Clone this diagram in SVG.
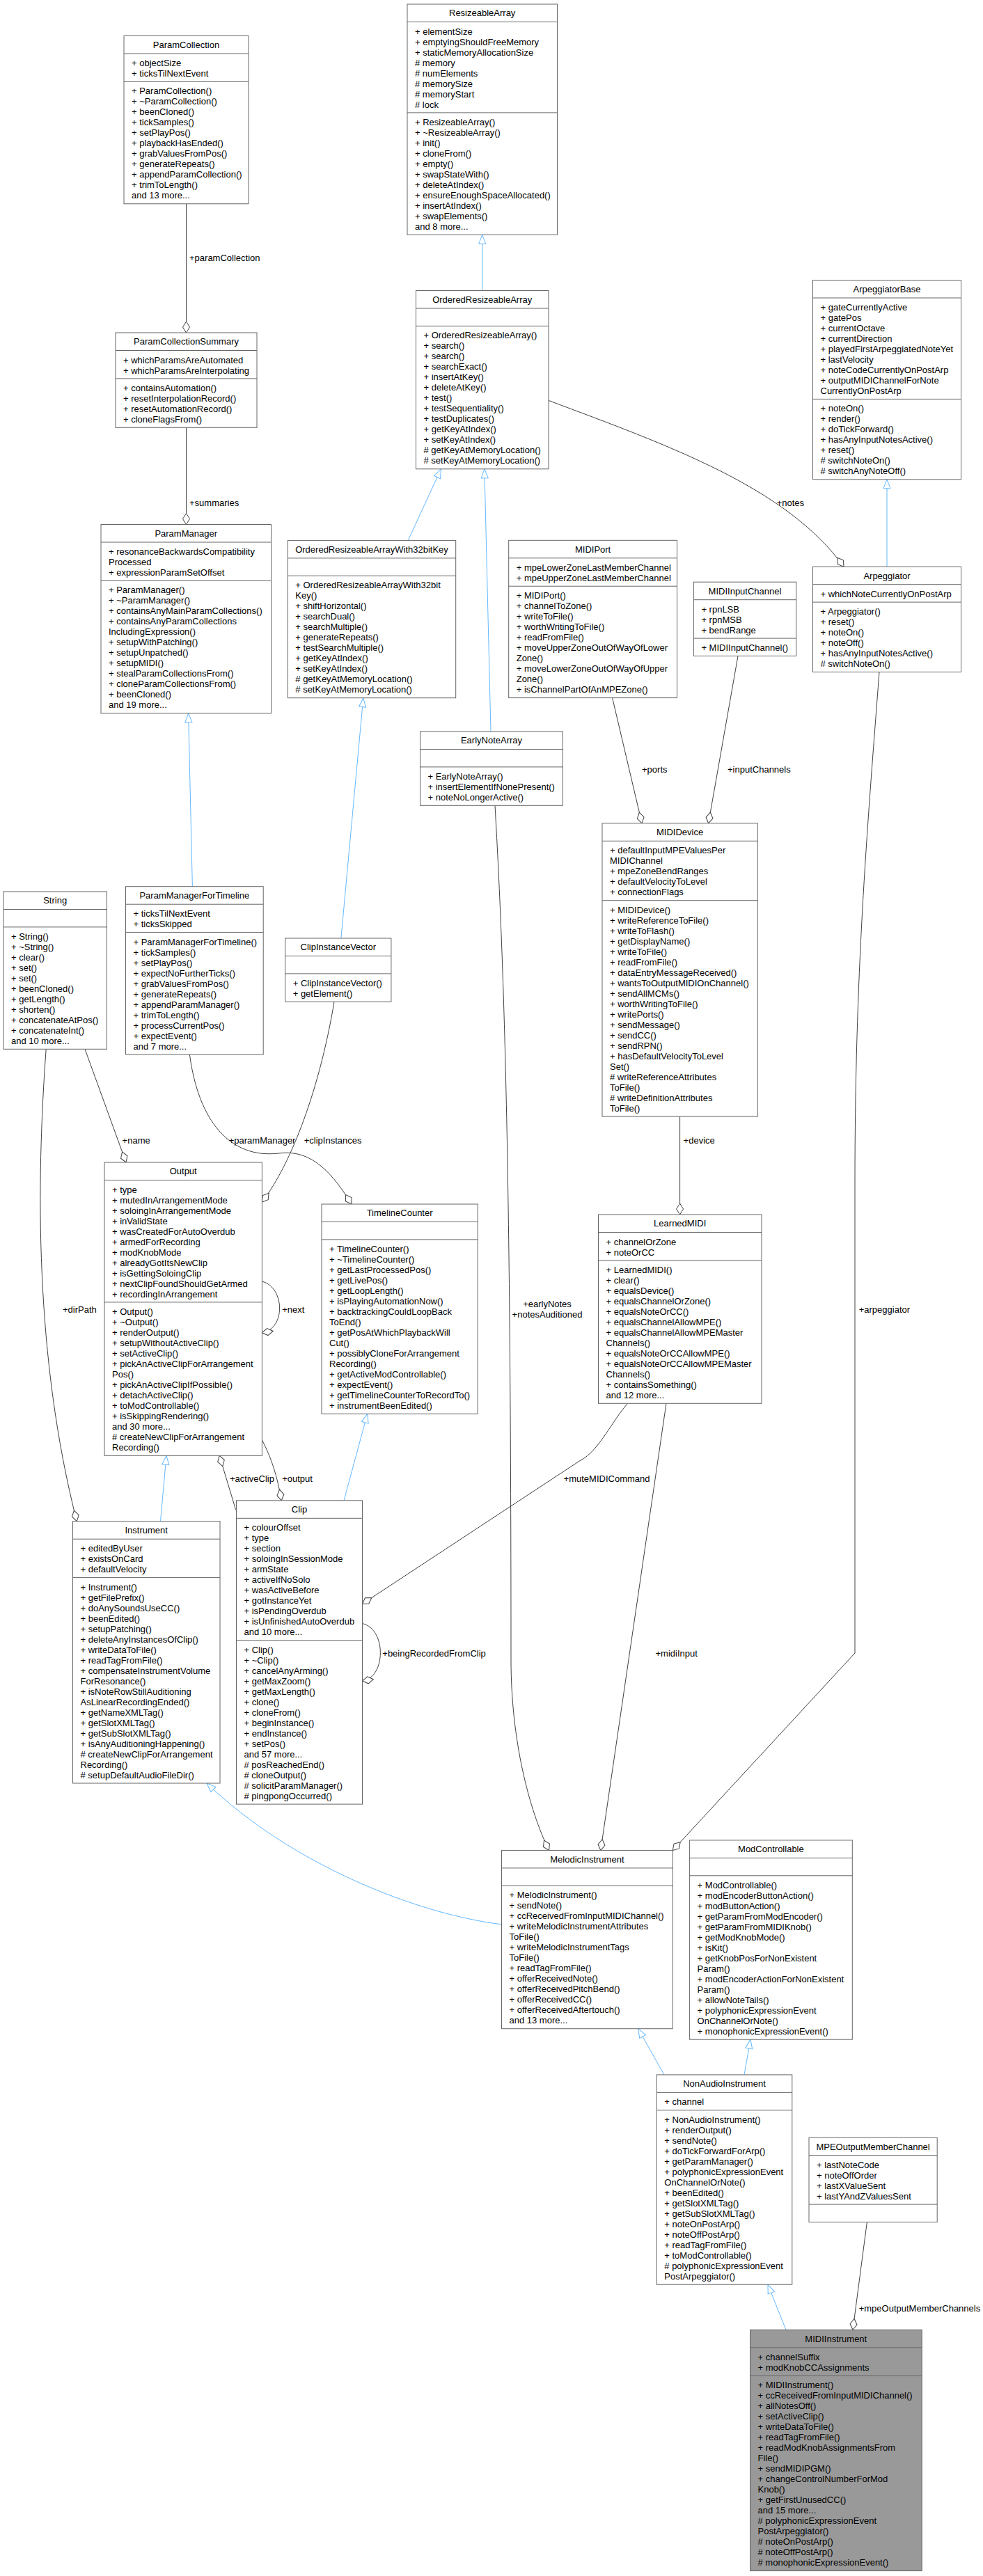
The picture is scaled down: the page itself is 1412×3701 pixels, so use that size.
<svg xmlns="http://www.w3.org/2000/svg" width="1412" height="3701" viewBox="0 0 1412 3701">
<style>
.b{fill:#fff;stroke:#666;stroke-width:1}
.g{fill:#999;stroke:#666;stroke-width:1}
.s{stroke:#666;stroke-width:1}
.t{font-family:"Liberation Sans",Arial,sans-serif;font-size:13px;fill:#000}
.c{text-anchor:middle}
.a{fill:none;stroke:#404040;stroke-width:1;marker-end:url(#dia)}
.i{fill:none;stroke:#63b8ff;stroke-width:1;marker-end:url(#tri)}
</style>
<defs>
<marker id="dia" markerUnits="userSpaceOnUse" markerWidth="18" markerHeight="14" viewBox="-17 -7 18 14" refX="0" refY="0" orient="auto"><path d="M0,0 L-8,-5 L-16,0 L-8,5 Z" fill="#fff" stroke="#404040"/></marker>
<marker id="tri" markerUnits="userSpaceOnUse" markerWidth="15" markerHeight="14" viewBox="-14 -7 15 14" refX="0" refY="0" orient="auto"><path d="M0,0 L-13,-5 L-13,5 Z" fill="#fff" stroke="#63b8ff"/></marker>
</defs>
<rect width="1412" height="3701" fill="#fff"/>
<g id="edges">
<path class="a" d="M267.5,292.8 L267.5,478"/>
<path class="a" d="M267.5,614.3 L267.5,753.5"/>
<path class="i" d="M276.4,1273.7 L270.6,1024.8"/>
<path class="i" d="M692.7,417.5 L692.7,337.3"/>
<path class="i" d="M586.2,776.4 L633.5,673.8"/>
<path class="i" d="M705,1051 L695.9,673.8"/>
<path class="i" d="M489.9,1348 L521.8,1002.7"/>
<path class="i" d="M1274,814.2 L1274,688.8"/>
<path class="a" d="M788,575.4 C960,640 1130,700 1212,814.2"/>
<path class="a" d="M879.6,1002.6 L922,1182.8"/>
<path class="a" d="M1060,942.5 L1017.6,1182.8"/>
<path class="a" d="M976.6,1604.1 L976.6,1745"/>
<path class="a" d="M122,1507.3 L181,1670"/>
<path class="a" d="M66.2,1507.3 C52,1700 50,1950 110.3,2185.7"/>
<path class="a" d="M272.4,1515 C285,1610 330,1665 400,1657 C450,1650 480,1690 505,1730"/>
<path class="a" d="M480,1439.3 C460,1560 420,1670 376.4,1727"/>
<path class="a" d="M376.4,1841 C410,1850 410,1910 376.4,1914.7"/>
<path class="a" d="M338.6,2169 L315.2,2091.3"/>
<path class="a" d="M376.4,2068.8 C390,2095 398,2120 404.3,2155.8"/>
<path class="i" d="M230.5,2185.7 L239,2091.3"/>
<path class="i" d="M494,2155.8 L527.7,2031.3"/>
<path class="a" d="M520.5,2332.6 C555,2340 555,2410 520.5,2415"/>
<path class="a" d="M901.7,2016.3 C880,2040 860,2085 834,2098 L520.5,2304.3"/>
<path class="a" d="M957,2016.3 L862.8,2658.4"/>
<path class="a" d="M711,1157.3 C725,1400 734,1700 734,2385 C734,2500 760,2600 788.5,2658.4"/>
<path class="a" d="M1263,965.5 C1245,1200 1228,1400 1228,1700 L1228,2375 L966.3,2658.4"/>
<path class="i" d="M720.5,2764.8 C600,2750 420,2680 297,2562"/>
<path class="i" d="M954,2980.9 L916.7,2914.7"/>
<path class="i" d="M1069,2980.9 L1078,2930.2"/>
<path class="i" d="M1129,3347.3 L1103,3282.2"/>
<path class="a" d="M1245.4,3192.5 L1225,3347.3"/>
<text class="t" x="272" y="375">+paramCollection</text>
<text class="t" x="272" y="726.5">+summaries</text>
<text class="t" x="1115.7" y="726.5">+notes</text>
<text class="t" x="922" y="1110">+ports</text>
<text class="t" x="1045" y="1110">+inputChannels</text>
<text class="t" x="981.6" y="1642.5">+device</text>
<text class="t" x="175.6" y="1642.5">+name</text>
<text class="t" x="328.7" y="1642.5">+paramManager</text>
<text class="t" x="436.7" y="1642.5">+clipInstances</text>
<text class="t" x="90" y="1885.5">+dirPath</text>
<text class="t" x="405.2" y="1885.5">+next</text>
<text class="t" x="330" y="2128.8">+activeClip</text>
<text class="t" x="405.2" y="2128.8">+output</text>
<text class="t" x="549.3" y="2379.5">+beingRecordedFromClip</text>
<text class="t" x="809.6" y="2128.8">+muteMIDICommand</text>
<text class="t" x="941.5" y="2379.5">+midiInput</text>
<text class="t c" x="786" y="1878">+earlyNotes</text>
<text class="t c" x="786" y="1892.8">+notesAuditioned</text>
<text class="t" x="1233.7" y="1885.5">+arpeggiator</text>
<text class="t" x="1233.7" y="3320.5">+mpeOutputMemberChannels</text>
</g>

<g id="ParamCollection">
<rect class="b" x="178" y="51.5" width="179" height="241.3"/>
<line class="s" x1="178" y1="77" x2="357" y2="77"/><line class="s" x1="178" y1="117.4" x2="357" y2="117.4"/>
<text class="t c" x="267.5" y="68.9">ParamCollection</text>
<text class="t" x="189" y="95"><tspan x="189">+ objectSize</tspan><tspan x="189" dy="15">+ ticksTilNextEvent</tspan></text>
<text class="t" x="189" y="135.4"><tspan x="189">+ ParamCollection()</tspan><tspan x="189" dy="15">+ ~ParamCollection()</tspan><tspan x="189" dy="15">+ beenCloned()</tspan><tspan x="189" dy="15">+ tickSamples()</tspan><tspan x="189" dy="15">+ setPlayPos()</tspan><tspan x="189" dy="15">+ playbackHasEnded()</tspan><tspan x="189" dy="15">+ grabValuesFromPos()</tspan><tspan x="189" dy="15">+ generateRepeats()</tspan><tspan x="189" dy="15">+ appendParamCollection()</tspan><tspan x="189" dy="15">+ trimToLength()</tspan><tspan x="189" dy="15">and 13 more...</tspan></text>
</g>

<g id="ParamCollectionSummary">
<rect class="b" x="166" y="478" width="203" height="136.3"/>
<line class="s" x1="166" y1="503.5" x2="369" y2="503.5"/><line class="s" x1="166" y1="543.9" x2="369" y2="543.9"/>
<text class="t c" x="267.5" y="495.4">ParamCollectionSummary</text>
<text class="t" x="177" y="521.5"><tspan x="177">+ whichParamsAreAutomated</tspan><tspan x="177" dy="15">+ whichParamsAreInterpolating</tspan></text>
<text class="t" x="177" y="561.9"><tspan x="177">+ containsAutomation()</tspan><tspan x="177" dy="15">+ resetInterpolationRecord()</tspan><tspan x="177" dy="15">+ resetAutomationRecord()</tspan><tspan x="177" dy="15">+ cloneFlagsFrom()</tspan></text>
</g>

<g id="ParamManager">
<rect class="b" x="145" y="753.5" width="244.5" height="271.3"/>
<line class="s" x1="145" y1="779" x2="389.5" y2="779"/><line class="s" x1="145" y1="834.4" x2="389.5" y2="834.4"/>
<text class="t c" x="267.2" y="770.9">ParamManager</text>
<text class="t" x="156" y="797"><tspan x="156">+ resonanceBackwardsCompatibility</tspan><tspan x="156" dy="15">Processed</tspan><tspan x="156" dy="15">+ expressionParamSetOffset</tspan></text>
<text class="t" x="156" y="852.4"><tspan x="156">+ ParamManager()</tspan><tspan x="156" dy="15">+ ~ParamManager()</tspan><tspan x="156" dy="15">+ containsAnyMainParamCollections()</tspan><tspan x="156" dy="15">+ containsAnyParamCollections</tspan><tspan x="156" dy="15">IncludingExpression()</tspan><tspan x="156" dy="15">+ setupWithPatching()</tspan><tspan x="156" dy="15">+ setupUnpatched()</tspan><tspan x="156" dy="15">+ setupMIDI()</tspan><tspan x="156" dy="15">+ stealParamCollectionsFrom()</tspan><tspan x="156" dy="15">+ cloneParamCollectionsFrom()</tspan><tspan x="156" dy="15">+ beenCloned()</tspan><tspan x="156" dy="15">and 19 more...</tspan></text>
</g>

<g id="ResizeableArray">
<rect class="b" x="585" y="6" width="215.5" height="331.3"/>
<line class="s" x1="585" y1="31.5" x2="800.5" y2="31.5"/><line class="s" x1="585" y1="161.9" x2="800.5" y2="161.9"/>
<text class="t c" x="692.7" y="23.4">ResizeableArray</text>
<text class="t" x="596" y="49.5"><tspan x="596">+ elementSize</tspan><tspan x="596" dy="15">+ emptyingShouldFreeMemory</tspan><tspan x="596" dy="15">+ staticMemoryAllocationSize</tspan><tspan x="596" dy="15"># memory</tspan><tspan x="596" dy="15"># numElements</tspan><tspan x="596" dy="15"># memorySize</tspan><tspan x="596" dy="15"># memoryStart</tspan><tspan x="596" dy="15"># lock</tspan></text>
<text class="t" x="596" y="179.9"><tspan x="596">+ ResizeableArray()</tspan><tspan x="596" dy="15">+ ~ResizeableArray()</tspan><tspan x="596" dy="15">+ init()</tspan><tspan x="596" dy="15">+ cloneFrom()</tspan><tspan x="596" dy="15">+ empty()</tspan><tspan x="596" dy="15">+ swapStateWith()</tspan><tspan x="596" dy="15">+ deleteAtIndex()</tspan><tspan x="596" dy="15">+ ensureEnoughSpaceAllocated()</tspan><tspan x="596" dy="15">+ insertAtIndex()</tspan><tspan x="596" dy="15">+ swapElements()</tspan><tspan x="596" dy="15">and 8 more...</tspan></text>
</g>

<g id="OrderedResizeableArray">
<rect class="b" x="597.5" y="417.5" width="190.5" height="256.3"/>
<line class="s" x1="597.5" y1="443" x2="788" y2="443"/><line class="s" x1="597.5" y1="468.4" x2="788" y2="468.4"/>
<text class="t c" x="692.7" y="434.9">OrderedResizeableArray</text>
<text class="t" x="608.5" y="486.4"><tspan x="608.5">+ OrderedResizeableArray()</tspan><tspan x="608.5" dy="15">+ search()</tspan><tspan x="608.5" dy="15">+ search()</tspan><tspan x="608.5" dy="15">+ searchExact()</tspan><tspan x="608.5" dy="15">+ insertAtKey()</tspan><tspan x="608.5" dy="15">+ deleteAtKey()</tspan><tspan x="608.5" dy="15">+ test()</tspan><tspan x="608.5" dy="15">+ testSequentiality()</tspan><tspan x="608.5" dy="15">+ testDuplicates()</tspan><tspan x="608.5" dy="15">+ getKeyAtIndex()</tspan><tspan x="608.5" dy="15">+ setKeyAtIndex()</tspan><tspan x="608.5" dy="15"># getKeyAtMemoryLocation()</tspan><tspan x="608.5" dy="15"># setKeyAtMemoryLocation()</tspan></text>
</g>

<g id="ArpeggiatorBase">
<rect class="b" x="1167.5" y="402.5" width="213" height="286.3"/>
<line class="s" x1="1167.5" y1="428" x2="1380.5" y2="428"/><line class="s" x1="1167.5" y1="573.4" x2="1380.5" y2="573.4"/>
<text class="t c" x="1274" y="419.9">ArpeggiatorBase</text>
<text class="t" x="1178.5" y="446"><tspan x="1178.5">+ gateCurrentlyActive</tspan><tspan x="1178.5" dy="15">+ gatePos</tspan><tspan x="1178.5" dy="15">+ currentOctave</tspan><tspan x="1178.5" dy="15">+ currentDirection</tspan><tspan x="1178.5" dy="15">+ playedFirstArpeggiatedNoteYet</tspan><tspan x="1178.5" dy="15">+ lastVelocity</tspan><tspan x="1178.5" dy="15">+ noteCodeCurrentlyOnPostArp</tspan><tspan x="1178.5" dy="15">+ outputMIDIChannelForNote</tspan><tspan x="1178.5" dy="15">CurrentlyOnPostArp</tspan></text>
<text class="t" x="1178.5" y="591.4"><tspan x="1178.5">+ noteOn()</tspan><tspan x="1178.5" dy="15">+ render()</tspan><tspan x="1178.5" dy="15">+ doTickForward()</tspan><tspan x="1178.5" dy="15">+ hasAnyInputNotesActive()</tspan><tspan x="1178.5" dy="15">+ reset()</tspan><tspan x="1178.5" dy="15"># switchNoteOn()</tspan><tspan x="1178.5" dy="15"># switchAnyNoteOff()</tspan></text>
</g>

<g id="Arpeggiator">
<rect class="b" x="1167.5" y="814.2" width="213" height="151.3"/>
<line class="s" x1="1167.5" y1="839.7" x2="1380.5" y2="839.7"/><line class="s" x1="1167.5" y1="865.1" x2="1380.5" y2="865.1"/>
<text class="t c" x="1274" y="831.6">Arpeggiator</text>
<text class="t" x="1178.5" y="857.7">+ whichNoteCurrentlyOnPostArp</text>
<text class="t" x="1178.5" y="883.1"><tspan x="1178.5">+ Arpeggiator()</tspan><tspan x="1178.5" dy="15">+ reset()</tspan><tspan x="1178.5" dy="15">+ noteOn()</tspan><tspan x="1178.5" dy="15">+ noteOff()</tspan><tspan x="1178.5" dy="15">+ hasAnyInputNotesActive()</tspan><tspan x="1178.5" dy="15"># switchNoteOn()</tspan></text>
</g>

<g id="OrderedResizeableArrayWith32bitKey">
<rect class="b" x="413.3" y="776.4" width="241.4" height="226.3"/>
<line class="s" x1="413.3" y1="801.9" x2="654.7" y2="801.9"/><line class="s" x1="413.3" y1="827.3" x2="654.7" y2="827.3"/>
<text class="t c" x="534" y="793.8">OrderedResizeableArrayWith32bitKey</text>
<text class="t" x="424.3" y="845.3"><tspan x="424.3">+ OrderedResizeableArrayWith32bit</tspan><tspan x="424.3" dy="15">Key()</tspan><tspan x="424.3" dy="15">+ shiftHorizontal()</tspan><tspan x="424.3" dy="15">+ searchDual()</tspan><tspan x="424.3" dy="15">+ searchMultiple()</tspan><tspan x="424.3" dy="15">+ generateRepeats()</tspan><tspan x="424.3" dy="15">+ testSearchMultiple()</tspan><tspan x="424.3" dy="15">+ getKeyAtIndex()</tspan><tspan x="424.3" dy="15">+ setKeyAtIndex()</tspan><tspan x="424.3" dy="15"># getKeyAtMemoryLocation()</tspan><tspan x="424.3" dy="15"># setKeyAtMemoryLocation()</tspan></text>
</g>

<g id="EarlyNoteArray">
<rect class="b" x="603.5" y="1051" width="204.9" height="106.3"/>
<line class="s" x1="603.5" y1="1076.5" x2="808.4" y2="1076.5"/><line class="s" x1="603.5" y1="1101.9" x2="808.4" y2="1101.9"/>
<text class="t c" x="706" y="1068.4">EarlyNoteArray</text>
<text class="t" x="614.5" y="1119.9"><tspan x="614.5">+ EarlyNoteArray()</tspan><tspan x="614.5" dy="15">+ insertElementIfNonePresent()</tspan><tspan x="614.5" dy="15">+ noteNoLongerActive()</tspan></text>
</g>

<g id="MIDIPort">
<rect class="b" x="730.7" y="776.3" width="241.8" height="226.3"/>
<line class="s" x1="730.7" y1="801.8" x2="972.5" y2="801.8"/><line class="s" x1="730.7" y1="842.2" x2="972.5" y2="842.2"/>
<text class="t c" x="851.6" y="793.7">MIDIPort</text>
<text class="t" x="741.7" y="819.8"><tspan x="741.7">+ mpeLowerZoneLastMemberChannel</tspan><tspan x="741.7" dy="15">+ mpeUpperZoneLastMemberChannel</tspan></text>
<text class="t" x="741.7" y="860.2"><tspan x="741.7">+ MIDIPort()</tspan><tspan x="741.7" dy="15">+ channelToZone()</tspan><tspan x="741.7" dy="15">+ writeToFile()</tspan><tspan x="741.7" dy="15">+ worthWritingToFile()</tspan><tspan x="741.7" dy="15">+ readFromFile()</tspan><tspan x="741.7" dy="15">+ moveUpperZoneOutOfWayOfLower</tspan><tspan x="741.7" dy="15">Zone()</tspan><tspan x="741.7" dy="15">+ moveLowerZoneOutOfWayOfUpper</tspan><tspan x="741.7" dy="15">Zone()</tspan><tspan x="741.7" dy="15">+ isChannelPartOfAnMPEZone()</tspan></text>
</g>

<g id="MIDIInputChannel">
<rect class="b" x="996.4" y="836.2" width="147.3" height="106.3"/>
<line class="s" x1="996.4" y1="861.7" x2="1143.7" y2="861.7"/><line class="s" x1="996.4" y1="917.1" x2="1143.7" y2="917.1"/>
<text class="t c" x="1070" y="853.6">MIDIInputChannel</text>
<text class="t" x="1007.4" y="879.7"><tspan x="1007.4">+ rpnLSB</tspan><tspan x="1007.4" dy="15">+ rpnMSB</tspan><tspan x="1007.4" dy="15">+ bendRange</tspan></text>
<text class="t" x="1007.4" y="935.1">+ MIDIInputChannel()</text>
</g>

<g id="MIDIDevice">
<rect class="b" x="865" y="1182.8" width="223.3" height="421.3"/>
<line class="s" x1="865" y1="1208.3" x2="1088.3" y2="1208.3"/><line class="s" x1="865" y1="1293.7" x2="1088.3" y2="1293.7"/>
<text class="t c" x="976.6" y="1200.2">MIDIDevice</text>
<text class="t" x="876" y="1226.3"><tspan x="876">+ defaultInputMPEValuesPer</tspan><tspan x="876" dy="15">MIDIChannel</tspan><tspan x="876" dy="15">+ mpeZoneBendRanges</tspan><tspan x="876" dy="15">+ defaultVelocityToLevel</tspan><tspan x="876" dy="15">+ connectionFlags</tspan></text>
<text class="t" x="876" y="1311.7"><tspan x="876">+ MIDIDevice()</tspan><tspan x="876" dy="15">+ writeReferenceToFile()</tspan><tspan x="876" dy="15">+ writeToFlash()</tspan><tspan x="876" dy="15">+ getDisplayName()</tspan><tspan x="876" dy="15">+ writeToFile()</tspan><tspan x="876" dy="15">+ readFromFile()</tspan><tspan x="876" dy="15">+ dataEntryMessageReceived()</tspan><tspan x="876" dy="15">+ wantsToOutputMIDIOnChannel()</tspan><tspan x="876" dy="15">+ sendAllMCMs()</tspan><tspan x="876" dy="15">+ worthWritingToFile()</tspan><tspan x="876" dy="15">+ writePorts()</tspan><tspan x="876" dy="15">+ sendMessage()</tspan><tspan x="876" dy="15">+ sendCC()</tspan><tspan x="876" dy="15">+ sendRPN()</tspan><tspan x="876" dy="15">+ hasDefaultVelocityToLevel</tspan><tspan x="876" dy="15">Set()</tspan><tspan x="876" dy="15"># writeReferenceAttributes</tspan><tspan x="876" dy="15">ToFile()</tspan><tspan x="876" dy="15"># writeDefinitionAttributes</tspan><tspan x="876" dy="15">ToFile()</tspan></text>
</g>

<g id="LearnedMIDI">
<rect class="b" x="859.5" y="1745" width="234.5" height="271.3"/>
<line class="s" x1="859.5" y1="1770.5" x2="1094" y2="1770.5"/><line class="s" x1="859.5" y1="1810.9" x2="1094" y2="1810.9"/>
<text class="t c" x="976.7" y="1762.4">LearnedMIDI</text>
<text class="t" x="870.5" y="1788.5"><tspan x="870.5">+ channelOrZone</tspan><tspan x="870.5" dy="15">+ noteOrCC</tspan></text>
<text class="t" x="870.5" y="1828.9"><tspan x="870.5">+ LearnedMIDI()</tspan><tspan x="870.5" dy="15">+ clear()</tspan><tspan x="870.5" dy="15">+ equalsDevice()</tspan><tspan x="870.5" dy="15">+ equalsChannelOrZone()</tspan><tspan x="870.5" dy="15">+ equalsNoteOrCC()</tspan><tspan x="870.5" dy="15">+ equalsChannelAllowMPE()</tspan><tspan x="870.5" dy="15">+ equalsChannelAllowMPEMaster</tspan><tspan x="870.5" dy="15">Channels()</tspan><tspan x="870.5" dy="15">+ equalsNoteOrCCAllowMPE()</tspan><tspan x="870.5" dy="15">+ equalsNoteOrCCAllowMPEMaster</tspan><tspan x="870.5" dy="15">Channels()</tspan><tspan x="870.5" dy="15">+ containsSomething()</tspan><tspan x="870.5" dy="15">and 12 more...</tspan></text>
</g>

<g id="String">
<rect class="b" x="5" y="1281" width="148.5" height="226.3"/>
<line class="s" x1="5" y1="1306.5" x2="153.5" y2="1306.5"/><line class="s" x1="5" y1="1331.9" x2="153.5" y2="1331.9"/>
<text class="t c" x="79.2" y="1298.4">String</text>
<text class="t" x="16" y="1349.9"><tspan x="16">+ String()</tspan><tspan x="16" dy="15">+ ~String()</tspan><tspan x="16" dy="15">+ clear()</tspan><tspan x="16" dy="15">+ set()</tspan><tspan x="16" dy="15">+ set()</tspan><tspan x="16" dy="15">+ beenCloned()</tspan><tspan x="16" dy="15">+ getLength()</tspan><tspan x="16" dy="15">+ shorten()</tspan><tspan x="16" dy="15">+ concatenateAtPos()</tspan><tspan x="16" dy="15">+ concatenateInt()</tspan><tspan x="16" dy="15">and 10 more...</tspan></text>
</g>

<g id="ParamManagerForTimeline">
<rect class="b" x="180.5" y="1273.7" width="197.7" height="241.3"/>
<line class="s" x1="180.5" y1="1299.2" x2="378.2" y2="1299.2"/><line class="s" x1="180.5" y1="1339.6" x2="378.2" y2="1339.6"/>
<text class="t c" x="279.3" y="1291.1">ParamManagerForTimeline</text>
<text class="t" x="191.5" y="1317.2"><tspan x="191.5">+ ticksTilNextEvent</tspan><tspan x="191.5" dy="15">+ ticksSkipped</tspan></text>
<text class="t" x="191.5" y="1357.6"><tspan x="191.5">+ ParamManagerForTimeline()</tspan><tspan x="191.5" dy="15">+ tickSamples()</tspan><tspan x="191.5" dy="15">+ setPlayPos()</tspan><tspan x="191.5" dy="15">+ expectNoFurtherTicks()</tspan><tspan x="191.5" dy="15">+ grabValuesFromPos()</tspan><tspan x="191.5" dy="15">+ generateRepeats()</tspan><tspan x="191.5" dy="15">+ appendParamManager()</tspan><tspan x="191.5" dy="15">+ trimToLength()</tspan><tspan x="191.5" dy="15">+ processCurrentPos()</tspan><tspan x="191.5" dy="15">+ expectEvent()</tspan><tspan x="191.5" dy="15">and 7 more...</tspan></text>
</g>

<g id="ClipInstanceVector">
<rect class="b" x="409.7" y="1348" width="152.2" height="91.3"/>
<line class="s" x1="409.7" y1="1373.5" x2="561.9" y2="1373.5"/><line class="s" x1="409.7" y1="1398.9" x2="561.9" y2="1398.9"/>
<text class="t c" x="485.8" y="1365.4">ClipInstanceVector</text>
<text class="t" x="420.7" y="1416.9"><tspan x="420.7">+ ClipInstanceVector()</tspan><tspan x="420.7" dy="15">+ getElement()</tspan></text>
</g>

<g id="Output">
<rect class="b" x="150" y="1670" width="226.4" height="421.3"/>
<line class="s" x1="150" y1="1695.5" x2="376.4" y2="1695.5"/><line class="s" x1="150" y1="1870.9" x2="376.4" y2="1870.9"/>
<text class="t c" x="263.2" y="1687.4">Output</text>
<text class="t" x="161" y="1713.5"><tspan x="161">+ type</tspan><tspan x="161" dy="15">+ mutedInArrangementMode</tspan><tspan x="161" dy="15">+ soloingInArrangementMode</tspan><tspan x="161" dy="15">+ inValidState</tspan><tspan x="161" dy="15">+ wasCreatedForAutoOverdub</tspan><tspan x="161" dy="15">+ armedForRecording</tspan><tspan x="161" dy="15">+ modKnobMode</tspan><tspan x="161" dy="15">+ alreadyGotItsNewClip</tspan><tspan x="161" dy="15">+ isGettingSoloingClip</tspan><tspan x="161" dy="15">+ nextClipFoundShouldGetArmed</tspan><tspan x="161" dy="15">+ recordingInArrangement</tspan></text>
<text class="t" x="161" y="1888.9"><tspan x="161">+ Output()</tspan><tspan x="161" dy="15">+ ~Output()</tspan><tspan x="161" dy="15">+ renderOutput()</tspan><tspan x="161" dy="15">+ setupWithoutActiveClip()</tspan><tspan x="161" dy="15">+ setActiveClip()</tspan><tspan x="161" dy="15">+ pickAnActiveClipForArrangement</tspan><tspan x="161" dy="15">Pos()</tspan><tspan x="161" dy="15">+ pickAnActiveClipIfPossible()</tspan><tspan x="161" dy="15">+ detachActiveClip()</tspan><tspan x="161" dy="15">+ toModControllable()</tspan><tspan x="161" dy="15">+ isSkippingRendering()</tspan><tspan x="161" dy="15">and 30 more...</tspan><tspan x="161" dy="15"># createNewClipForArrangement</tspan><tspan x="161" dy="15">Recording()</tspan></text>
</g>

<g id="TimelineCounter">
<rect class="b" x="462" y="1730" width="224.2" height="301.3"/>
<line class="s" x1="462" y1="1755.5" x2="686.2" y2="1755.5"/><line class="s" x1="462" y1="1780.9" x2="686.2" y2="1780.9"/>
<text class="t c" x="574.1" y="1747.4">TimelineCounter</text>
<text class="t" x="473" y="1798.9"><tspan x="473">+ TimelineCounter()</tspan><tspan x="473" dy="15">+ ~TimelineCounter()</tspan><tspan x="473" dy="15">+ getLastProcessedPos()</tspan><tspan x="473" dy="15">+ getLivePos()</tspan><tspan x="473" dy="15">+ getLoopLength()</tspan><tspan x="473" dy="15">+ isPlayingAutomationNow()</tspan><tspan x="473" dy="15">+ backtrackingCouldLoopBack</tspan><tspan x="473" dy="15">ToEnd()</tspan><tspan x="473" dy="15">+ getPosAtWhichPlaybackWill</tspan><tspan x="473" dy="15">Cut()</tspan><tspan x="473" dy="15">+ possiblyCloneForArrangement</tspan><tspan x="473" dy="15">Recording()</tspan><tspan x="473" dy="15">+ getActiveModControllable()</tspan><tspan x="473" dy="15">+ expectEvent()</tspan><tspan x="473" dy="15">+ getTimelineCounterToRecordTo()</tspan><tspan x="473" dy="15">+ instrumentBeenEdited()</tspan></text>
</g>

<g id="Instrument">
<rect class="b" x="104.5" y="2185.7" width="211.5" height="376.3"/>
<line class="s" x1="104.5" y1="2211.2" x2="316" y2="2211.2"/><line class="s" x1="104.5" y1="2266.6" x2="316" y2="2266.6"/>
<text class="t c" x="210.2" y="2203.1">Instrument</text>
<text class="t" x="115.5" y="2229.2"><tspan x="115.5">+ editedByUser</tspan><tspan x="115.5" dy="15">+ existsOnCard</tspan><tspan x="115.5" dy="15">+ defaultVelocity</tspan></text>
<text class="t" x="115.5" y="2284.6"><tspan x="115.5">+ Instrument()</tspan><tspan x="115.5" dy="15">+ getFilePrefix()</tspan><tspan x="115.5" dy="15">+ doAnySoundsUseCC()</tspan><tspan x="115.5" dy="15">+ beenEdited()</tspan><tspan x="115.5" dy="15">+ setupPatching()</tspan><tspan x="115.5" dy="15">+ deleteAnyInstancesOfClip()</tspan><tspan x="115.5" dy="15">+ writeDataToFile()</tspan><tspan x="115.5" dy="15">+ readTagFromFile()</tspan><tspan x="115.5" dy="15">+ compensateInstrumentVolume</tspan><tspan x="115.5" dy="15">ForResonance()</tspan><tspan x="115.5" dy="15">+ isNoteRowStillAuditioning</tspan><tspan x="115.5" dy="15">AsLinearRecordingEnded()</tspan><tspan x="115.5" dy="15">+ getNameXMLTag()</tspan><tspan x="115.5" dy="15">+ getSlotXMLTag()</tspan><tspan x="115.5" dy="15">+ getSubSlotXMLTag()</tspan><tspan x="115.5" dy="15">+ isAnyAuditioningHappening()</tspan><tspan x="115.5" dy="15"># createNewClipForArrangement</tspan><tspan x="115.5" dy="15">Recording()</tspan><tspan x="115.5" dy="15"># setupDefaultAudioFileDir()</tspan></text>
</g>

<g id="Clip">
<rect class="b" x="339.5" y="2155.8" width="181" height="436.3"/>
<line class="s" x1="339.5" y1="2181.3" x2="520.5" y2="2181.3"/><line class="s" x1="339.5" y1="2356.7" x2="520.5" y2="2356.7"/>
<text class="t c" x="430" y="2173.2">Clip</text>
<text class="t" x="350.5" y="2199.3"><tspan x="350.5">+ colourOffset</tspan><tspan x="350.5" dy="15">+ type</tspan><tspan x="350.5" dy="15">+ section</tspan><tspan x="350.5" dy="15">+ soloingInSessionMode</tspan><tspan x="350.5" dy="15">+ armState</tspan><tspan x="350.5" dy="15">+ activeIfNoSolo</tspan><tspan x="350.5" dy="15">+ wasActiveBefore</tspan><tspan x="350.5" dy="15">+ gotInstanceYet</tspan><tspan x="350.5" dy="15">+ isPendingOverdub</tspan><tspan x="350.5" dy="15">+ isUnfinishedAutoOverdub</tspan><tspan x="350.5" dy="15">and 10 more...</tspan></text>
<text class="t" x="350.5" y="2374.7"><tspan x="350.5">+ Clip()</tspan><tspan x="350.5" dy="15">+ ~Clip()</tspan><tspan x="350.5" dy="15">+ cancelAnyArming()</tspan><tspan x="350.5" dy="15">+ getMaxZoom()</tspan><tspan x="350.5" dy="15">+ getMaxLength()</tspan><tspan x="350.5" dy="15">+ clone()</tspan><tspan x="350.5" dy="15">+ cloneFrom()</tspan><tspan x="350.5" dy="15">+ beginInstance()</tspan><tspan x="350.5" dy="15">+ endInstance()</tspan><tspan x="350.5" dy="15">+ setPos()</tspan><tspan x="350.5" dy="15">and 57 more...</tspan><tspan x="350.5" dy="15"># posReachedEnd()</tspan><tspan x="350.5" dy="15"># cloneOutput()</tspan><tspan x="350.5" dy="15"># solicitParamManager()</tspan><tspan x="350.5" dy="15"># pingpongOccurred()</tspan></text>
</g>

<g id="MelodicInstrument">
<rect class="b" x="720.5" y="2658.4" width="245.8" height="256.3"/>
<line class="s" x1="720.5" y1="2683.9" x2="966.3" y2="2683.9"/><line class="s" x1="720.5" y1="2709.3" x2="966.3" y2="2709.3"/>
<text class="t c" x="843.4" y="2675.8">MelodicInstrument</text>
<text class="t" x="731.5" y="2727.3"><tspan x="731.5">+ MelodicInstrument()</tspan><tspan x="731.5" dy="15">+ sendNote()</tspan><tspan x="731.5" dy="15">+ ccReceivedFromInputMIDIChannel()</tspan><tspan x="731.5" dy="15">+ writeMelodicInstrumentAttributes</tspan><tspan x="731.5" dy="15">ToFile()</tspan><tspan x="731.5" dy="15">+ writeMelodicInstrumentTags</tspan><tspan x="731.5" dy="15">ToFile()</tspan><tspan x="731.5" dy="15">+ readTagFromFile()</tspan><tspan x="731.5" dy="15">+ offerReceivedNote()</tspan><tspan x="731.5" dy="15">+ offerReceivedPitchBend()</tspan><tspan x="731.5" dy="15">+ offerReceivedCC()</tspan><tspan x="731.5" dy="15">+ offerReceivedAftertouch()</tspan><tspan x="731.5" dy="15">and 13 more...</tspan></text>
</g>

<g id="ModControllable">
<rect class="b" x="990.6" y="2643.9" width="233.7" height="286.3"/>
<line class="s" x1="990.6" y1="2669.4" x2="1224.3" y2="2669.4"/><line class="s" x1="990.6" y1="2694.8" x2="1224.3" y2="2694.8"/>
<text class="t c" x="1107.4" y="2661.3">ModControllable</text>
<text class="t" x="1001.6" y="2712.8"><tspan x="1001.6">+ ModControllable()</tspan><tspan x="1001.6" dy="15">+ modEncoderButtonAction()</tspan><tspan x="1001.6" dy="15">+ modButtonAction()</tspan><tspan x="1001.6" dy="15">+ getParamFromModEncoder()</tspan><tspan x="1001.6" dy="15">+ getParamFromMIDIKnob()</tspan><tspan x="1001.6" dy="15">+ getModKnobMode()</tspan><tspan x="1001.6" dy="15">+ isKit()</tspan><tspan x="1001.6" dy="15">+ getKnobPosForNonExistent</tspan><tspan x="1001.6" dy="15">Param()</tspan><tspan x="1001.6" dy="15">+ modEncoderActionForNonExistent</tspan><tspan x="1001.6" dy="15">Param()</tspan><tspan x="1001.6" dy="15">+ allowNoteTails()</tspan><tspan x="1001.6" dy="15">+ polyphonicExpressionEvent</tspan><tspan x="1001.6" dy="15">OnChannelOrNote()</tspan><tspan x="1001.6" dy="15">+ monophonicExpressionEvent()</tspan></text>
</g>

<g id="NonAudioInstrument">
<rect class="b" x="943.3" y="2980.9" width="194.5" height="301.3"/>
<line class="s" x1="943.3" y1="3006.4" x2="1137.8" y2="3006.4"/><line class="s" x1="943.3" y1="3031.8" x2="1137.8" y2="3031.8"/>
<text class="t c" x="1040.5" y="2998.3">NonAudioInstrument</text>
<text class="t" x="954.3" y="3024.4">+ channel</text>
<text class="t" x="954.3" y="3049.8"><tspan x="954.3">+ NonAudioInstrument()</tspan><tspan x="954.3" dy="15">+ renderOutput()</tspan><tspan x="954.3" dy="15">+ sendNote()</tspan><tspan x="954.3" dy="15">+ doTickForwardForArp()</tspan><tspan x="954.3" dy="15">+ getParamManager()</tspan><tspan x="954.3" dy="15">+ polyphonicExpressionEvent</tspan><tspan x="954.3" dy="15">OnChannelOrNote()</tspan><tspan x="954.3" dy="15">+ beenEdited()</tspan><tspan x="954.3" dy="15">+ getSlotXMLTag()</tspan><tspan x="954.3" dy="15">+ getSubSlotXMLTag()</tspan><tspan x="954.3" dy="15">+ noteOnPostArp()</tspan><tspan x="954.3" dy="15">+ noteOffPostArp()</tspan><tspan x="954.3" dy="15">+ readTagFromFile()</tspan><tspan x="954.3" dy="15">+ toModControllable()</tspan><tspan x="954.3" dy="15"># polyphonicExpressionEvent</tspan><tspan x="954.3" dy="15">PostArpeggiator()</tspan></text>
</g>

<g id="MPEOutputMemberChannel">
<rect class="b" x="1162" y="3071.2" width="184.2" height="121.3"/>
<line class="s" x1="1162" y1="3096.7" x2="1346.2" y2="3096.7"/><line class="s" x1="1162" y1="3167.1" x2="1346.2" y2="3167.1"/>
<text class="t c" x="1254.1" y="3088.6">MPEOutputMemberChannel</text>
<text class="t" x="1173" y="3114.7"><tspan x="1173">+ lastNoteCode</tspan><tspan x="1173" dy="15">+ noteOffOrder</tspan><tspan x="1173" dy="15">+ lastXValueSent</tspan><tspan x="1173" dy="15">+ lastYAndZValuesSent</tspan></text>
</g>

<g id="MIDIInstrument">
<rect class="g" x="1077.5" y="3347.3" width="246.7" height="346.3"/>
<line class="s" x1="1077.5" y1="3372.8" x2="1324.2" y2="3372.8"/><line class="s" x1="1077.5" y1="3413.2" x2="1324.2" y2="3413.2"/>
<text class="t c" x="1200.8" y="3364.7">MIDIInstrument</text>
<text class="t" x="1088.5" y="3390.8"><tspan x="1088.5">+ channelSuffix</tspan><tspan x="1088.5" dy="15">+ modKnobCCAssignments</tspan></text>
<text class="t" x="1088.5" y="3431.2"><tspan x="1088.5">+ MIDIInstrument()</tspan><tspan x="1088.5" dy="15">+ ccReceivedFromInputMIDIChannel()</tspan><tspan x="1088.5" dy="15">+ allNotesOff()</tspan><tspan x="1088.5" dy="15">+ setActiveClip()</tspan><tspan x="1088.5" dy="15">+ writeDataToFile()</tspan><tspan x="1088.5" dy="15">+ readTagFromFile()</tspan><tspan x="1088.5" dy="15">+ readModKnobAssignmentsFrom</tspan><tspan x="1088.5" dy="15">File()</tspan><tspan x="1088.5" dy="15">+ sendMIDIPGM()</tspan><tspan x="1088.5" dy="15">+ changeControlNumberForMod</tspan><tspan x="1088.5" dy="15">Knob()</tspan><tspan x="1088.5" dy="15">+ getFirstUnusedCC()</tspan><tspan x="1088.5" dy="15">and 15 more...</tspan><tspan x="1088.5" dy="15"># polyphonicExpressionEvent</tspan><tspan x="1088.5" dy="15">PostArpeggiator()</tspan><tspan x="1088.5" dy="15"># noteOnPostArp()</tspan><tspan x="1088.5" dy="15"># noteOffPostArp()</tspan><tspan x="1088.5" dy="15"># monophonicExpressionEvent()</tspan></text>
</g>
</svg>
